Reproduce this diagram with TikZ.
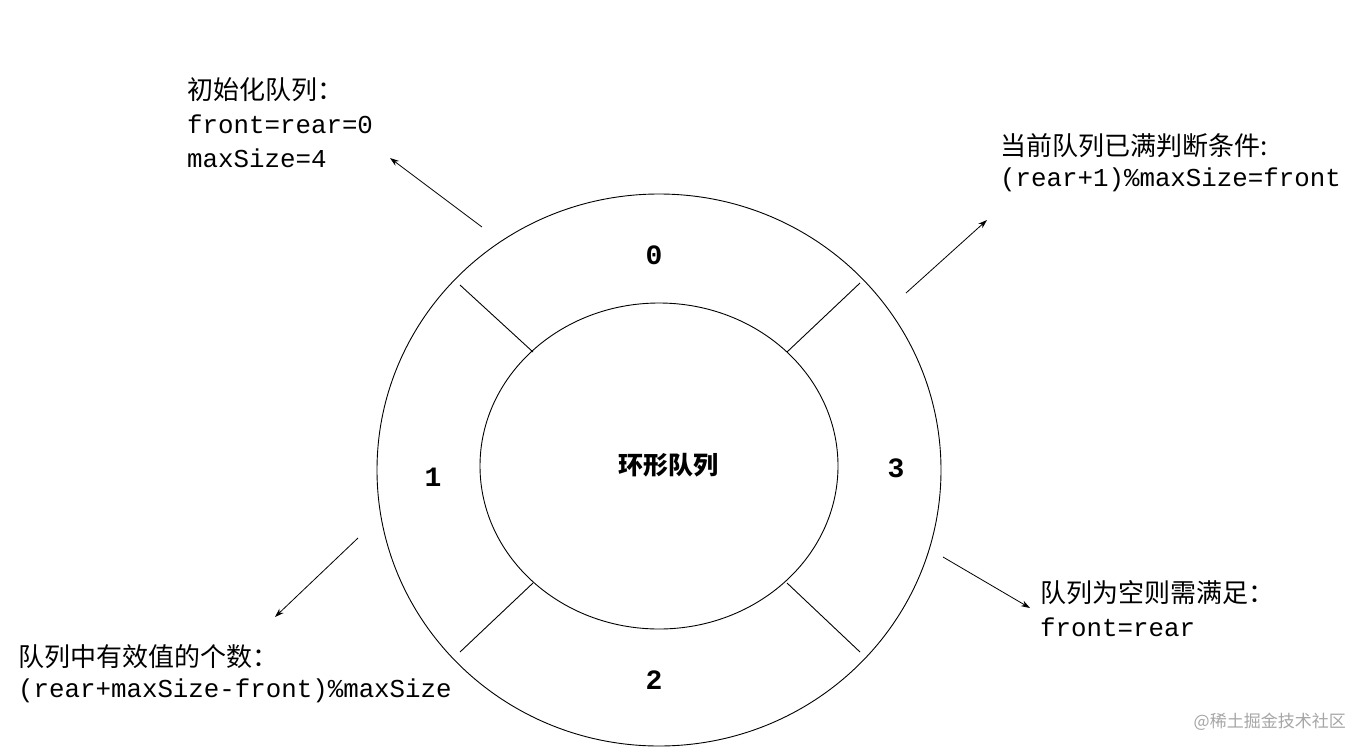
\documentclass[tikz,border=0pt]{standalone}
\usepackage{fontspec}
\usetikzlibrary{arrows.meta}
\setmainfont{Liberation Mono}
\newfontfamily\cjk{Noto Sans CJK SC}
\begin{document}
\begin{tikzpicture}[x=1pt,y=-1pt,
  txt/.style={anchor=west,inner sep=0pt,font=\fontsize{25.8}{28}\selectfont},
  ctxt/.style={anchor=west,inner sep=0pt,font=\cjk\fontsize{26}{28}\selectfont},
  num/.style={inner sep=0pt,font=\bfseries\fontsize{28}{30}\selectfont},
  arr/.style={-{Stealth[length=9pt,width=6pt]},line width=0.8pt}]
\useasboundingbox (0,0) rectangle (1366,753);
\fill[white] (0,0) rectangle (1366,753);
\draw[line width=0.9pt] (659,470) ellipse [x radius=282,y radius=276];
\draw[line width=0.9pt] (659,466) ellipse [x radius=179,y radius=163];
\draw[line width=0.9pt] (460,285) -- (533,352);
\draw[line width=0.9pt] (787,352) -- (860,283);
\draw[line width=0.9pt] (460,652) -- (533,583);
\draw[line width=0.9pt] (787,583) -- (860,652);
\node[num] (n0) at (654,255) {0};
\node[num] (n1) at (433,477) {1};
\node[num] (n2) at (654,680) {2};
\node[num] (n3) at (896,468) {3};
\node[inner sep=0pt,font=\cjk\bfseries\fontsize{25}{28}\selectfont] (c) at (668,465) {环形队列};
\node[ctxt] (a1) at (187,90) {初始化队列：};
\node[txt] (a2) at (187,124) {front=rear=0};
\node[txt] (a3) at (187,158) {maxSize=4};
\node[ctxt] (b1) at (1000,146) {当前队列已满判断条件:};
\node[txt] (b2) at (1000,180) {(rear+1)\%maxSize=front};
\node[ctxt] (d1) at (18,657) {队列中有效值的个数：};
\node[txt] (d2) at (18,691) {(rear+maxSize-front)\%maxSize};
\node[ctxt] (e1) at (1040,593) {队列为空则需满足：};
\node[txt] (e2) at (1040,627) {front=rear};
\coordinate (p1) at (482,227); \coordinate (q1) at (390,158);
\coordinate (p2) at (906,293); \coordinate (q2) at (987,220);
\coordinate (p3) at (358,538); \coordinate (q3) at (275,617);
\coordinate (p4) at (943,557); \coordinate (q4) at (1030,608);
\draw[arr] (p1) -- (q1);
\draw[arr] (p2) -- (q2);
\draw[arr] (p3) -- (q3);
\draw[arr] (p4) -- (q4);
\node[anchor=east,inner sep=0pt,text=black!35,font=\cjk\fontsize{17}{20}\selectfont] (w) at (1346,722) {@稀土掘金技术社区};
\end{tikzpicture}
\end{document}
